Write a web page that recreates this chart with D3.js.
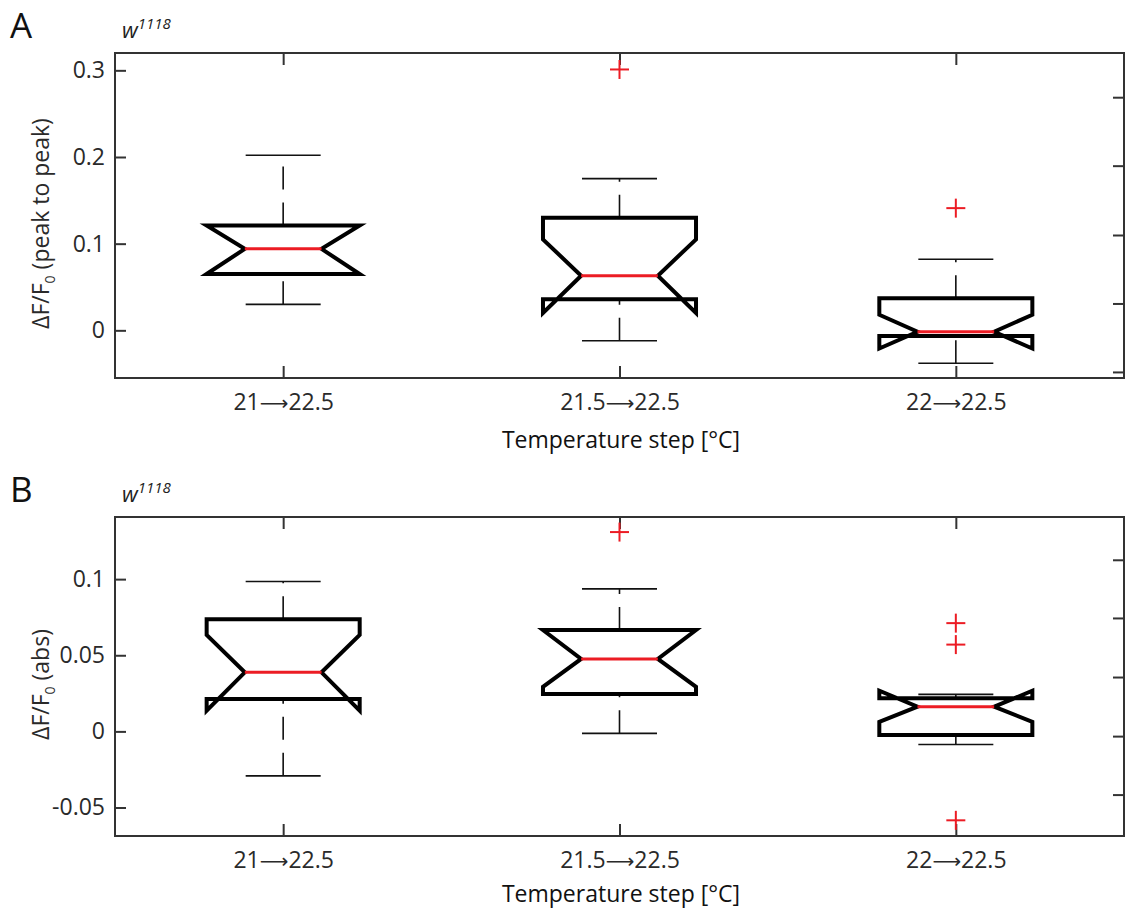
<!DOCTYPE html>
<html>
<head>
<meta charset="utf-8">
<script src="https://cdn.jsdelivr.net/npm/d3@7"></script>
<style>
  body { margin: 0; background: #fff; }
  svg { font-family: "Open Sans", sans-serif; }
</style>
</head>
<body>
<div id="chart"></div>
<script>
// categories on the x axis
var categories = ["21\u219222.5", "21.5\u219222.5", "22\u219222.5"];

// panel A : dF/F0 peak to peak
var peakQ1 = [0.065, 0.036, -0.0066];
var peakMedian = [0.094, 0.063, -0.0016];
var peakQ3 = [0.121, 0.130, 0.037];
var peakNotchLo = [0.065, 0.020, -0.021];
var peakNotchHi = [0.121, 0.105, 0.018];
var peakWhiskerLo = [0.030, -0.012, -0.038];
var peakWhiskerHi = [0.202, 0.175, 0.082];
var peakOutliers = [[], [0.301], [0.141]];
var peakTicks = [0, 0.1, 0.2, 0.3];
var peakRightTicks = [-0.048, 0.031, 0.110, 0.190, 0.269];

// panel B : dF/F0 abs
var absQ1 = [0.0213, 0.0245, -0.0024];
var absMedian = [0.0388, 0.0476, 0.0162];
var absQ3 = [0.0737, 0.0666, 0.0217];
var absNotchLo = [0.0136, 0.0293, 0.0063];
var absNotchHi = [0.0634, 0.0666, 0.0267];
var absWhiskerLo = [-0.0292, -0.0013, -0.0086];
var absWhiskerHi = [0.0984, 0.0936, 0.0243];
var absOutliers = [[], [0.1309], [0.0711, 0.057, -0.0584]];
var absTicks = [-0.05, 0, 0.05, 0.1];
var absRightTicks = [-0.0415, -0.0031, 0.0357, 0.0745, 0.1127];

var width = 1126, height = 908;
var left = 115, right = 1124;
var red = "#ec1c24";

var panels = [
    {letter: "A", top: 53, bottom: 378, domain: [-0.055, 0.32], ylabel: " (peak to peak)", titleGap: 70,
     q1: peakQ1, med: peakMedian, q3: peakQ3, nlo: peakNotchLo, nhi: peakNotchHi,
     wlo: peakWhiskerLo, whi: peakWhiskerHi, out: peakOutliers, ticks: peakTicks, rticks: peakRightTicks},
    {letter: "B", top: 517, bottom: 836, domain: [-0.0687, 0.1408], ylabel: " (abs)", titleGap: 66,
     q1: absQ1, med: absMedian, q3: absQ3, nlo: absNotchLo, nhi: absNotchHi,
     wlo: absWhiskerLo, whi: absWhiskerHi, out: absOutliers, ticks: absTicks, rticks: absRightTicks}
];

var svg = d3.select("#chart")
    .append("svg")
    .attr("width", width)
    .attr("height", height);

var x = d3.scaleLinear().domain([0.5, 3.5]).range([left, right]);
var boxHalf = 0.2275, notchHalf = 0.114, capHalf = 0.1115;

panels.forEach(function(p){
    var y = d3.scaleLinear().domain(p.domain).range([p.bottom, p.top]);
    var g = svg.append("g");

    // axes
    var yAxis = d3.axisLeft(y).tickValues(p.ticks).tickFormat(d => String(d))
        .tickSizeInner(-11).tickSizeOuter(0).tickPadding(10);
    var yRight = d3.axisRight(y).tickValues(p.rticks).tickFormat("")
        .tickSizeInner(-11).tickSizeOuter(0);
    var xAxis = d3.axisBottom(x).tickValues([1, 2, 3]).tickFormat((d, i) => categories[i])
        .tickSizeInner(-12).tickSizeOuter(0).tickPadding(16);
    var xTop = d3.axisTop(x).tickValues([1, 2, 3]).tickFormat("")
        .tickSizeInner(-12).tickSizeOuter(0);

    g.append("g").attr("transform", `translate(${left},0)`).call(yAxis);
    g.append("g").attr("transform", `translate(${right},0)`).call(yRight);
    var xg = g.append("g").attr("transform", `translate(0,${p.bottom})`).call(xAxis);
    g.append("g").attr("transform", `translate(0,${p.top})`).call(xTop);
    g.selectAll(".domain").remove();
    g.selectAll(".tick line").attr("stroke", "#333").attr("stroke-width", 2);
    g.selectAll(".tick text").attr("font-size", 23).attr("fill", "#2a2a2a")
        .attr("font-family", "Open Sans, sans-serif");

    // split category labels so the arrow uses a long arrow glyph
    xg.selectAll(".tick text").each(function(){
        var s = d3.select(this), parts = s.text().split("\u2192");
        s.text(null);
        s.append("tspan").text(parts[0]);
        s.append("tspan").attr("font-family", "DejaVu Sans").attr("font-size", 20).text("\u27F6");
        s.append("tspan").text(parts[1]);
    });

    g.append("rect")
        .attr("x", left).attr("y", p.top)
        .attr("width", right - left).attr("height", p.bottom - p.top)
        .attr("fill", "none").attr("stroke", "#333").attr("stroke-width", 2);

    var idx = d3.range(categories.length);

    // whiskers (dashed), drawn from low value to high value
    var whisk = g.append("g").attr("stroke", "#111").attr("stroke-width", 1.6)
        .attr("stroke-dasharray", "23,13");
    whisk.selectAll(".wlo").data(idx).enter().append("line")
        .attr("x1", i => x(i + 1)).attr("x2", i => x(i + 1))
        .attr("y1", i => y(p.wlo[i])).attr("y2", i => y(p.q1[i]));
    whisk.selectAll(".whi").data(idx).enter().append("line")
        .attr("x1", i => x(i + 1)).attr("x2", i => x(i + 1))
        .attr("y1", i => y(p.q3[i])).attr("y2", i => y(p.whi[i]));

    // caps
    var caps = g.append("g").attr("stroke", "#111").attr("stroke-width", 1.6);
    idx.forEach(function(i){
        [p.wlo[i], p.whi[i]].forEach(function(v){
            caps.append("line")
                .attr("x1", x(i + 1 - capHalf)).attr("x2", x(i + 1 + capHalf))
                .attr("y1", y(v)).attr("y2", y(v));
        });
    });

    // notched boxes
    var line = d3.line().x(d => x(d[0])).y(d => y(d[1]));
    g.append("g").selectAll("path").data(idx).enter().append("path")
        .attr("d", function(i){
            var c = i + 1, l = c - boxHalf, r = c + boxHalf;
            return line([
                [l, p.q1[i]], [l, p.nlo[i]], [c - notchHalf, p.med[i]], [l, p.nhi[i]], [l, p.q3[i]],
                [r, p.q3[i]], [r, p.nhi[i]], [c + notchHalf, p.med[i]], [r, p.nlo[i]], [r, p.q1[i]]
            ]) + "Z";
        })
        .attr("fill", "none").attr("stroke", "#000").attr("stroke-width", 4)
        .attr("stroke-linejoin", "miter");

    // medians
    g.append("g").selectAll("line").data(idx).enter().append("line")
        .attr("x1", i => x(i + 1 - notchHalf)).attr("x2", i => x(i + 1 + notchHalf))
        .attr("y1", i => y(p.med[i])).attr("y2", i => y(p.med[i]))
        .attr("stroke", red).attr("stroke-width", 3);

    // outliers
    var pts = [];
    p.out.forEach((arr, i) => arr.forEach(v => pts.push({i: i, v: v})));
    var plus = g.append("g").selectAll("g").data(pts).enter().append("g")
        .attr("transform", d => `translate(${x(d.i + 1)},${y(d.v)})`)
        .attr("stroke", red).attr("stroke-width", 2);
    plus.append("line").attr("x1", -9.5).attr("x2", 9.5);
    plus.append("line").attr("y1", -9.5).attr("y2", 9.5);

    // labels
    svg.append("text").attr("x", 10).attr("y", p.top - 15)
        .attr("font-size", 35).attr("fill", "#111").text(p.letter);

    var t = svg.append("text").attr("x", 122).attr("y", p.top - 15)
        .attr("font-size", 22).attr("font-style", "italic").attr("fill", "#222");
    t.append("tspan").text("w");
    t.append("tspan").attr("font-size", 15).attr("dy", -9).text("1118");

    var yl = svg.append("text")
        .attr("transform", `translate(49,${(p.top + p.bottom) / 2 + 8}) rotate(-90)`)
        .attr("text-anchor", "middle").attr("font-size", 23).attr("fill", "#2a2a2a");
    yl.append("tspan").text("\u0394F/F");
    yl.append("tspan").attr("font-size", 14).attr("dy", 6).text("0");
    yl.append("tspan").attr("dy", -6).text(p.ylabel);

    svg.append("text").attr("x", 621).attr("y", p.bottom + p.titleGap)
        .attr("text-anchor", "middle").attr("font-size", 23).attr("fill", "#111")
        .text("Temperature step [\u00B0C]");
});
</script>
</body>
</html>
